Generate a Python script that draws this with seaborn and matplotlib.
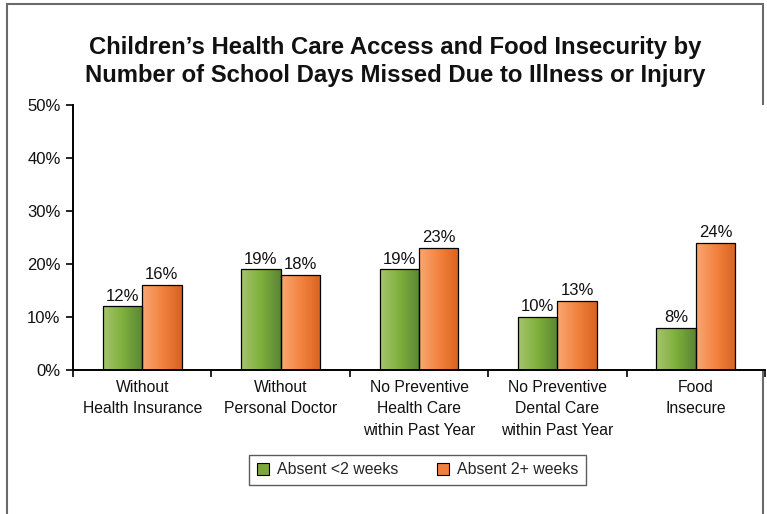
import numpy as np
import pandas as pd
import matplotlib
matplotlib.use("Agg")
import matplotlib.pyplot as plt
import seaborn as sns
from matplotlib.colors import LinearSegmentedColormap
from matplotlib.patches import Rectangle, Patch

categories = [
    "Without\nHealth Insurance",
    "Without\nPersonal Doctor",
    "No Preventive\nHealth Care\nwithin Past Year",
    "No Preventive\nDental Care\nwithin Past Year",
    "Food\nInsecure",
]
series_names = ["Absent <2 weeks", "Absent 2+ weeks"]
absent_lt2 = [12, 19, 19, 10, 8]
absent_2plus = [16, 18, 23, 13, 24]
ytick_values = [0, 10, 20, 30, 40, 50]
ytick_labels = ["0%", "10%", "20%", "30%", "40%", "50%"]

df = pd.DataFrame({
    "category": categories * 2,
    "group": [series_names[0]] * 5 + [series_names[1]] * 5,
    "value": absent_lt2 + absent_2plus,
})

sns.set_theme(style="white")
plt.rcParams["font.family"] = ["Liberation Sans", "DejaVu Sans"]

fig = plt.figure(figsize=(7.67, 5.14), dpi=100)
ax = fig.add_axes([73 / 767, 1 - 370 / 514, (765 - 73) / 767, (370 - 105) / 514])

mid_colors = ["#7ea63f", "#f0803c"]
sns.barplot(data=df, x="category", y="value", hue="group", order=categories,
            hue_order=series_names, palette=mid_colors, width=0.57, gap=0,
            edgecolor="black", linewidth=0.9, legend=False, ax=ax, errorbar=None)

gradients = [
    LinearSegmentedColormap.from_list("g", ["#a6c56e", "#7eaf3c", "#5a8534"]),
    LinearSegmentedColormap.from_list("o", ["#f9a875", "#f2833f", "#d9621f"]),
]
grad = np.linspace(0, 1, 256).reshape(1, -1)

for i, container in enumerate(ax.containers):
    for bar, val in zip(container, [absent_lt2, absent_2plus][i]):
        x0, y0 = bar.get_x(), bar.get_y()
        w, h = bar.get_width(), bar.get_height()
        img = ax.imshow(grad, cmap=gradients[i], aspect="auto",
                        extent=[x0, x0 + w, y0, y0 + h], zorder=bar.get_zorder() - 0.1)
        img.set_clip_path(bar)
        bar.set_facecolor("none")
        ax.annotate(f"{val}%", (x0 + w / 2, y0 + h), xytext=(0, 2),
                    textcoords="offset points", ha="center", va="bottom",
                    fontsize=12, color="#111111")

ax.set_xlim(-0.5, 4.5)
ax.set_ylim(0, 50)
ax.set_yticks(ytick_values)
ax.set_yticklabels(ytick_labels, fontsize=12, color="#111111")

# Category boundaries carry the tick marks; labels sit at centers.
ax.set_xticks(np.arange(-0.5, 5, 1.0))
ax.set_xticklabels([])
ax.set_xticks(np.arange(5), minor=True)
ax.set_xticklabels(categories, minor=True, fontsize=11.3, color="#111111",
                   linespacing=1.55, va="top")
ax.tick_params(axis="x", which="major", direction="out", length=5, width=1.2,
               color="black", bottom=True)
ax.tick_params(axis="x", which="minor", length=0, pad=7)
ax.tick_params(axis="y", direction="out", length=5, width=1.2, color="black",
               left=True, pad=4)

ax.set_xlabel("")
ax.set_ylabel("")
for side in ["top", "right"]:
    ax.spines[side].set_visible(False)
for side in ["left", "bottom"]:
    ax.spines[side].set_color("black")
    ax.spines[side].set_linewidth(1.4)
ax.grid(False)

handles = [Patch(facecolor=c, edgecolor="black", linewidth=0.8) for c in mid_colors]
fig.legend(handles, series_names, loc="center", bbox_to_anchor=(417.5 / 767, 1 - 470 / 514),
           ncol=2, frameon=True, fancybox=False, edgecolor="#333333", fontsize=11.4,
           columnspacing=2.4, handlelength=0.8, handleheight=0.8, handletextpad=0.5,
           borderpad=0.45)
leg = fig.legends[0]
leg.get_frame().set_linewidth(1.0)

fig.text(395 / 767, 1 - 61.5 / 514,
         "Children\u2019s Health Care Access and Food Insecurity by\n"
         "Number of School Days Missed Due to Illness or Injury",
         ha="center", va="center", fontsize=17.2, fontweight="bold",
         color="#111111", linespacing=1.28)

fig.patches.append(Rectangle((7 / 767, -0.1), (763 - 7) / 767, 1.1 - 4 / 514,
                             transform=fig.transFigure, fill=False,
                             edgecolor="#6a6a6a", linewidth=1.5, zorder=-1))

fig.savefig("out.png", dpi=100)
